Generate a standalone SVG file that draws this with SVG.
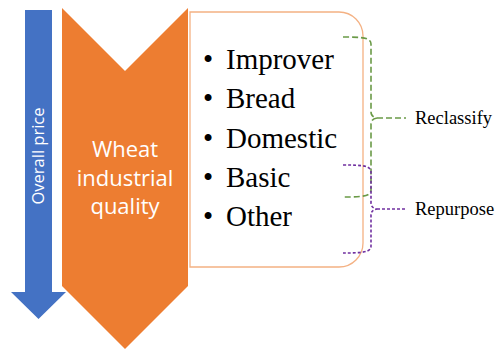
<svg xmlns="http://www.w3.org/2000/svg" width="499" height="350" viewBox="0 0 499 350">
<style>
.item{font-family:'Liberation Serif',serif;font-size:29px;fill:#000}
.lbl{font-family:'Liberation Serif',serif;font-size:18.5px;fill:#000}
.wt{font-family:'Open Sans','Liberation Sans',sans-serif;fill:#fff;text-anchor:middle}
.g{fill:none;stroke:#6A9A47;stroke-width:1.6;stroke-dasharray:6 3}
.p{fill:none;stroke:#7030A0;stroke-width:1.6;stroke-dasharray:3 2}
</style>
<rect width="499" height="350" fill="#fff"/>
<g id="price-arrow">
<polygon points="25,10 52,10 52,292 66,292 38.5,319 11,292 25,292" fill="#4472C4"/>
<text class="wt" font-size="16.5" transform="translate(44,156) rotate(-90)">Overall price</text>
</g>
<g id="quality-chevron">
<polygon points="62,8 125,71 188,8 188,286 125,349 62,286" fill="#ED7D31"/>
<text class="wt" font-size="22" x="125" y="157">Wheat</text>
<text class="wt" font-size="22" x="125" y="186">industrial</text>
<text class="wt" font-size="22" x="125" y="214">quality</text>
</g>
<g id="categories">
<path d="M190,12 H339 A24,24 0 0 1 363,36 V243 A24,24 0 0 1 339,267 H190 Z" fill="#fff" stroke="#F4B183" stroke-width="1.3"/>
<text class="item" x="203" y="69">•</text><text class="item" x="226" y="69">Improver</text>
<text class="item" x="203" y="108">•</text><text class="item" x="226" y="108">Bread</text>
<text class="item" x="203" y="148">•</text><text class="item" x="226" y="148">Domestic</text>
<text class="item" x="203" y="187">•</text><text class="item" x="226" y="187">Basic</text>
<text class="item" x="203" y="226">•</text><text class="item" x="226" y="226">Other</text>
</g>
<g id="connectors">
<path class="g" d="M343,37 C364,37 371,38 371,44 L371,112 Q371,117 377,118 Q371,119 371,124 L371,190 C371,196 364,197 343,197"/>
<line class="g" x1="377" y1="118" x2="406" y2="118"/>
<path class="p" d="M343,165 C364,165 371,166 371,172 L371,203 Q371,208 377,209 Q371,210 371,215 L371,246 C371,252 364,253 343,253"/>
<line class="p" x1="377" y1="209" x2="406" y2="209"/>
</g>
<g id="labels">
<text class="lbl" x="415" y="124">Reclassify</text>
<text class="lbl" x="415" y="215">Repurpose</text>
</g>
</svg>
